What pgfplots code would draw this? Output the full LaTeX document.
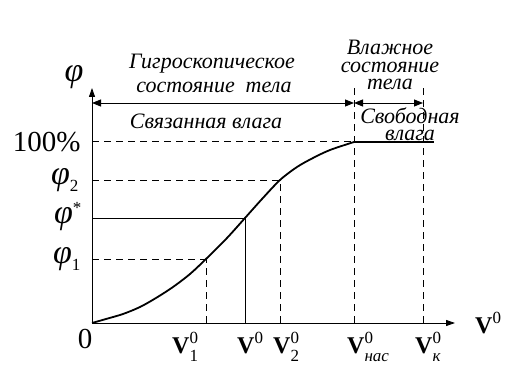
\documentclass[border=0pt]{standalone}
\usepackage{fontspec}
\setmainfont{Liberation Serif}
\usepackage{pgfplots}
\pgfplotsset{compat=1.18}
\usetikzlibrary{arrows.meta}
\newcommand{\fbig}{\fontsize{29bp}{29bp}\selectfont}
\newcommand{\fphi}{\fontsize{34bp}{34bp}\selectfont\itshape}
\newcommand{\fmid}{\fontsize{22bp}{17.5bp}\selectfont\itshape}
\newcommand{\fsm}{\fontsize{17bp}{17bp}\selectfont}
\newcommand{\Vv}[1]{{\fontsize{24bp}{24bp}\selectfont\bfseries V}\rlap{\raisebox{10bp}{\fsm 0}}\raisebox{-8bp}{\fsm #1}}
\begin{document}
\begin{tikzpicture}
\begin{axis}[scale only axis, width=516bp, height=372bp,
  xmin=-92, xmax=424, ymin=-49, ymax=323, hide axis, clip=false]
\addplot[draw=none] coordinates {(-92,-49) (424,323)};
% axes
\addplot[line width=0.9bp, -{Triangle[length=9bp,width=6bp]}] coordinates {(0,0) (363,0)};
\addplot[line width=0.9bp, -{Triangle[length=9bp,width=6bp]}] coordinates {(0,0) (0,235)};
% dashed guides
\addplot[line width=0.8bp, dash pattern=on 7bp off 5bp] coordinates {(0,182) (262,182)};
\addplot[line width=0.8bp, dash pattern=on 7bp off 5bp] coordinates {(0,143) (188,143)};
\addplot[line width=0.8bp, dash pattern=on 7bp off 5bp] coordinates {(0,64) (114,64)};
\addplot[line width=0.8bp, dash pattern=on 7bp off 5bp] coordinates {(114,0) (114,64)};
\addplot[line width=0.8bp, dash pattern=on 7bp off 5bp] coordinates {(188,0) (188,143)};
\addplot[line width=0.8bp, dash pattern=on 7bp off 5bp] coordinates {(262,0) (262,236)};
\addplot[line width=0.8bp, dash pattern=on 7bp off 5bp] coordinates {(331,0) (331,236)};
% solid guides
\addplot[line width=0.8bp] coordinates {(0,105) (153,105) (153,0)};
% curve
\addplot[line width=1.8bp, smooth, tension=0.5] coordinates {
 (0,0) (14,4) (31,9) (48,16) (64,25) (81,36) (98,49) (114,64) (135,85) (153,105) (170,124)
 (188,143) (205,156) (221,165) (238,173) (262,181)};
\addplot[line width=2bp] coordinates {(262,181) (342,181)};
% double arrows
\addplot[line width=0.9bp, {Triangle[length=9bp,width=7bp]}-{Triangle[length=9bp,width=7bp]}] coordinates {(0,220) (262,220)};
\addplot[line width=0.9bp, {Triangle[length=9bp,width=7bp]}-{Triangle[length=9bp,width=7bp]}] coordinates {(262,220) (331,220)};
% labels
\node at (axis cs:-18,246) {\fphi φ};
\node[anchor=east] at (axis cs:-8,181) {\fbig 100\%};
\node[anchor=east] at (axis cs:-10,143) {\fphi φ\raisebox{-7bp}{\fsm\upshape 2}};
\node[anchor=east] at (axis cs:-7,106) {\fphi φ\raisebox{10bp}{\fsm\upshape *}};
\node[anchor=east] at (axis cs:-8,64) {\fphi φ\raisebox{-7bp}{\fsm\upshape 1}};
\node at (axis cs:-7,-16) {\fbig 0};
\node[anchor=north west,inner sep=0] at (axis cs:80,-9) {\Vv{1}};
\node[anchor=north west,inner sep=0] at (axis cs:145,-9) {\Vv{}};
\node[anchor=north west,inner sep=0] at (axis cs:181,-9) {\Vv{2}};
\node[anchor=north west,inner sep=0] at (axis cs:255,-9) {\Vv{\itshape нас}};
\node[anchor=north west,inner sep=0] at (axis cs:323,-9) {\Vv{\itshape к}};
\node[anchor=west,inner sep=0] at (axis cs:383,-4) {\Vv{}};
\node at (axis cs:120,259) {\fmid Гигроскопическое};
\node at (axis cs:122,236) {\fmid состояние\ \ тела};
\node at (axis cs:114,202) {\fmid Связанная влага};
\node[align=center, font=\fmid, inner sep=0] at (axis cs:298,258) {Влажное\\состояние\\тела};
\node[align=center, font=\fmid, inner sep=0] at (axis cs:318,199) {Свободная\\влага};
\end{axis}
\end{tikzpicture}
\end{document}
